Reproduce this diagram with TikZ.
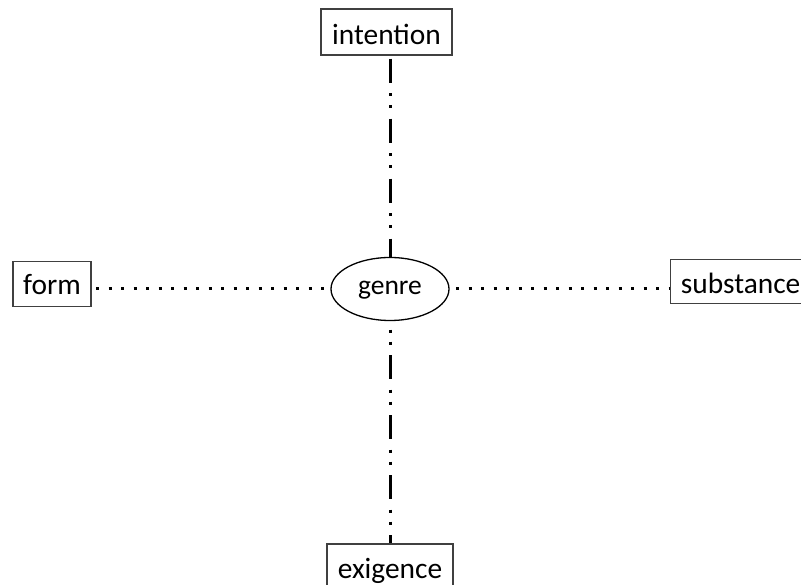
\documentclass[tikz,border=0pt]{standalone}
\usepackage{fontspec}
\setmainfont{Carlito}
\usetikzlibrary{shapes.geometric}
\begin{document}
\begin{tikzpicture}[x=1pt,y=-1pt,
  box/.style={draw=black!75, line width=1.3pt, inner xsep=0pt, inner ysep=0pt,
    minimum height=46pt, text height=28pt, text depth=2pt,
    font=\fontsize{29.4}{30}\selectfont},
  oval/.style={draw=black, line width=1.3pt, ellipse, inner sep=0pt,
    minimum width=118pt, minimum height=63pt, text height=20pt, text depth=8pt,
    font=\fontsize{27.5}{30}\selectfont},
  dashdotdot/.style={line width=3pt, line cap=butt,
    dash pattern=on 24pt off 10.5pt on 3pt off 9pt on 3pt off 10.5pt},
  dotline/.style={line width=3pt, line cap=butt, dash pattern=on 3pt off 9.5pt}
]
\useasboundingbox (0,0) rectangle (801,585);
\node[oval] (genre) at (390,289) {genre};
\node[box, minimum width=131pt] (intention) at (386.5,32) {intention};
\node[box, minimum width=78pt, minimum height=45pt, text height=24pt, text depth=2pt] (form) at (52,284) {form};
\node[box, minimum width=140pt, minimum height=44pt, text height=26pt, text depth=2pt, anchor=west] (substance) at (670,281.3) {substance};
\node[box, minimum width=126pt, text height=25pt, text depth=2pt] (exigence) at (390,567) {exigence};
\draw[dashdotdot, dash phase=57pt] (intention.south -| genre.north) -- (genre.north);
\draw[dashdotdot, dash phase=26pt] (genre.south) -- (exigence.north -| genre.south);
\draw[dotline, dash phase=8pt] (form.east |- genre.west) -- (genre.west);
\draw[dotline, dash phase=6pt] (genre.east) -- (substance.west |- genre.east);
\end{tikzpicture}
\end{document}
